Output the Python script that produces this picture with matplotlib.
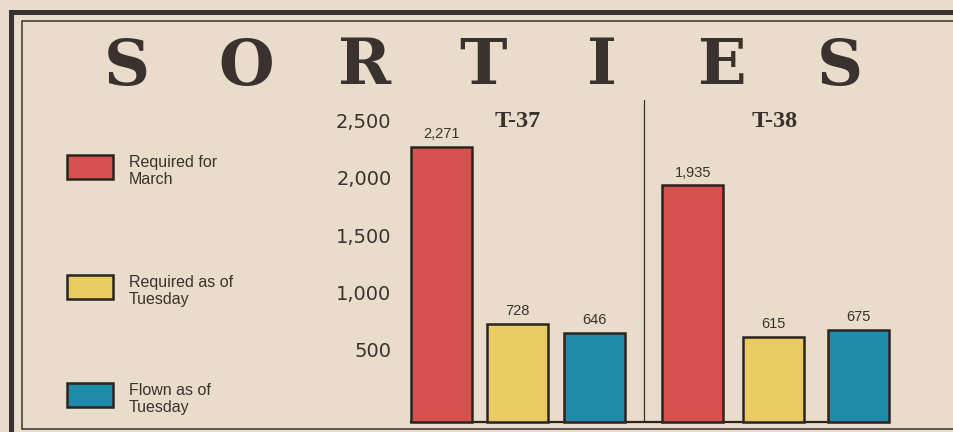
import matplotlib.pyplot as plt
import numpy as np
from matplotlib.patches import Rectangle
from matplotlib.lines import Line2D
import matplotlib.transforms as mtransforms

# data
aircraft = ['T-37', 'T-38']
series = ['Required for\nMarch', 'Required as of\nTuesday', 'Flown as of\nTuesday']
t37_values = [2271, 728, 646]
t38_values = [1935, 615, 675]
y_ticks = [500, 1000, 1500, 2000, 2500]
title_word = 'SORTIES'

# look
paper = '#e9dccb'
ink = '#3a322e'
edge = '#2b2421'
colors = ['#d4514d', '#e9cb63', '#1f8aa9']

W, H = 954, 432
def fx(x):
    return x / W
def fy(y):
    return 1 - y / H

fig = plt.figure(figsize=(W / 100, H / 100), dpi=100, facecolor=paper)

# newspaper frame: thick outer rule, thin inner rule
fig.add_artist(Line2D([fx(W), fx(11.5), fx(11.5)], [fy(11.5), fy(11.5), fy(H)],
                      transform=fig.transFigure, color=ink, lw=3.6, solid_joinstyle='miter'))
fig.add_artist(Line2D([fx(W), fx(22), fx(22), fx(W)], [fy(21), fy(21), fy(429), fy(429)],
                      transform=fig.transFigure, color=ink, lw=1.1, solid_joinstyle='miter'))

# spaced-out title letters
letter_x = np.linspace(127, 840, len(title_word))
for ch, x in zip(title_word, letter_x):
    fig.text(fx(x), fy(67), ch, ha='center', va='center', fontsize=46,
             family='DejaVu Serif', fontweight='heavy', color=ink)

# legend, drawn by hand
legend_y = [167, 287, 395]
for label, c, y in zip(series, colors, legend_y):
    fig.add_artist(Rectangle((fx(67), fy(y + 12)), 46 / W, 24 / H, transform=fig.transFigure,
                             facecolor=c, edgecolor=edge, lw=1.8))
    fig.text(fx(129), fy(y + 4), label, ha='left', va='center', fontsize=11.5,
             family='Liberation Sans', color=ink, linespacing=1.1)

# bar panel
ax = fig.add_axes([fx(411), fy(422), (889 - 411) / W, (422 - 100) / H])
ax.set_facecolor('none')

floor = -131
width = 0.78
group_pos = [np.array([0, 0.97, 1.96]), np.array([3.21, 4.24, 5.33])]
for pos, vals in zip(group_pos, [t37_values, t38_values]):
    vals = np.array(vals)
    bars = ax.bar(pos, vals - floor, bottom=floor, width=width, color=colors,
                  edgecolor=edge, linewidth=1.8, zorder=3, clip_on=False)
    ax.bar_label(bars, labels=[f'{v:,}' for v in vals], padding=4, fontsize=10.5,
                 family='Liberation Sans', color=ink)

ax.set_ylim(floor, 2679)
ax.set_xlim(-width / 2, group_pos[1][-1] + width / 2)
ax.set_yticks(y_ticks)
ax.set_yticklabels([f'{v:,}' for v in y_ticks], fontsize=14, color=ink)
ax.set_xticks([])
ax.tick_params(axis='y', length=0, pad=14)
for s in ['left', 'right', 'top']:
    ax.spines[s].set_visible(False)
ax.spines['bottom'].set_color(edge)
ax.spines['bottom'].set_linewidth(1.6)

# divider between the two aircraft
ax.axvline((group_pos[0][-1] + group_pos[1][0]) / 2, color=ink, lw=0.9)

trans = mtransforms.blended_transform_factory(ax.transData, ax.transAxes)
for name, pos in zip(aircraft, group_pos):
    ax.text(pos.mean(), 0.932, name, transform=trans, ha='center', va='center',
            fontsize=17.5, family='Liberation Serif', fontweight='bold', color=ink)

fig.savefig('out.png', dpi=100, facecolor=paper)
